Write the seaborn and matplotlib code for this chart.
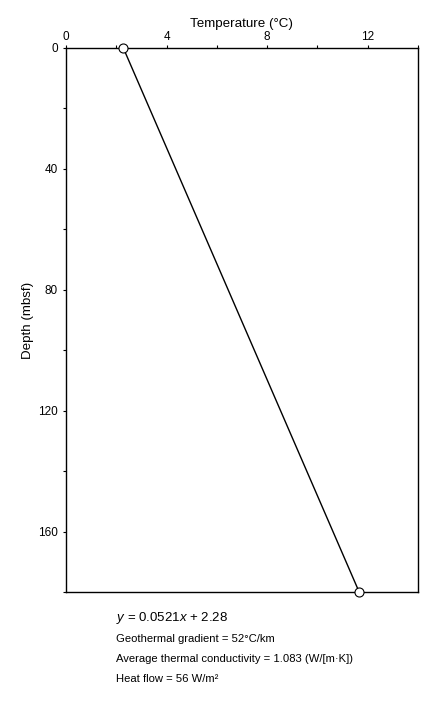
import matplotlib
matplotlib.use("Agg")
import matplotlib.pyplot as plt
import seaborn as sns
import pandas as pd
from matplotlib.ticker import MultipleLocator

sns.set_theme(style="white")
plt.rcParams['font.family'] = ['Liberation Sans', 'DejaVu Sans']
plt.rcParams['mathtext.fontset'] = 'custom'
plt.rcParams['mathtext.rm'] = 'Liberation Sans'
plt.rcParams['mathtext.it'] = 'Liberation Sans:italic'
plt.rcParams['text.color'] = 'black'
plt.rcParams['axes.labelcolor'] = 'black'

temperature = [2.28, 11.66]
depth = [0, 180]
x_ticks = [0, 4, 8, 12]
y_ticks = [0, 40, 80, 120, 160]
notes = ["Geothermal gradient = 52°C/km",
         "Average thermal conductivity = 1.083 (W/[m·K])",
         "Heat flow = 56 W/m²"]

df = pd.DataFrame({"Temperature": temperature, "Depth": depth})

fig = plt.figure(figsize=(4.34, 7.03), dpi=100)
ax = fig.add_axes([66/434, 1-592/703, (418-66)/434, (592-48)/703])

sns.lineplot(data=df, x="Temperature", y="Depth", sort=False, ax=ax,
             color="black", linewidth=1.0, marker="o", markersize=6.5,
             markerfacecolor="white", markeredgecolor="black",
             markeredgewidth=0.8, clip_on=False, zorder=5)

ax.set_xlim(0, 14)
ax.set_ylim(180, 0)
ax.xaxis.set_label_position("top")
ax.xaxis.tick_top()
ax.set_xticks(x_ticks)
ax.set_yticks(y_ticks)
ax.xaxis.set_minor_locator(MultipleLocator(2))
ax.yaxis.set_minor_locator(MultipleLocator(20))
ax.tick_params(axis="both", which="both", direction="out", length=2.5, width=0.8,
               colors="black", labelcolor="black", labelsize=8.5)
ax.tick_params(axis="x", which="both", top=True, bottom=False, pad=0.8)
ax.tick_params(axis="y", which="both", left=True, right=False, pad=3.5)
ax.set_xlabel("Temperature (°C)", fontsize=9.6, labelpad=3, color="black")
ax.set_ylabel("Depth (mbsf)", fontsize=9.6, labelpad=3, color="black")
for s in ax.spines.values():
    s.set_color("black")
    s.set_linewidth(1.0)

fig.text(116/434, 1-618/703, "$y$ = 0.0521$x$ + 2.28", fontsize=9.5, va="center", ha="left", color="black")
ys = [639, 659, 679]
for t, yy in zip(notes, ys):
    fig.text(116/434, 1-yy/703, t, fontsize=8.1, va="center", ha="left", color="black")

fig.savefig("out.png", dpi=100)
